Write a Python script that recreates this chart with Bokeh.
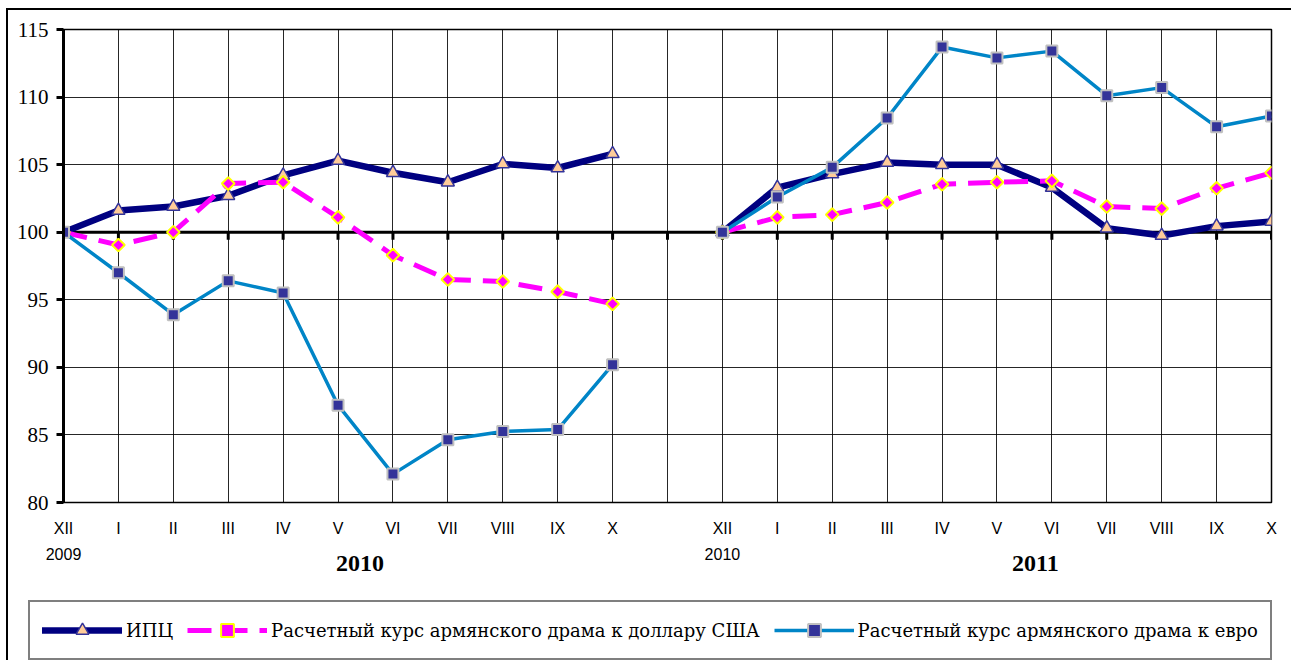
import math
from bokeh.plotting import figure
from bokeh.layouts import column
from bokeh.models import Range1d, FixedTicker, Span, Label, Legend, LegendItem
from bokeh.embed import file_html
from bokeh.resources import INLINE

# ---------------- data ----------------
months = ["XII", "I", "II", "III", "IV", "V", "VI", "VII", "VIII", "IX", "X"]
tick_labels = months + [""] + months
y_ticks = [80, 85, 90, 95, 100, 105, 110, 115]

cpi_2010 = [100, 101.6, 101.9, 102.7, 104.2, 105.3, 104.4, 103.7, 105.05, 104.75, 105.8]
cpi_2011 = [100, 103.3, 104.3, 105.15, 105.0, 105.0, 103.3, 100.3, 99.75, 100.45, 100.8]
usd_2010 = [100, 99.05, 100.0, 103.6, 103.7, 101.1, 98.3, 96.5, 96.35, 95.6, 94.7]
usd_2011 = [100, 101.1, 101.3, 102.2, 103.55, 103.7, 103.8, 101.9, 101.75, 103.25, 104.4]
eur_2010 = [100, 97.0, 93.9, 96.4, 95.5, 87.2, 82.1, 84.65, 85.25, 85.4, 90.2]
eur_2011 = [100, 102.6, 104.8, 108.45, 113.7, 112.9, 113.4, 110.1, 110.7, 107.8, 108.6]

base_year_labels = ["2009", "2010"]
base_year_pos = [0, 12]
year_labels = ["2010", "2011"]
year_pos = [5.4, 17.7]
legend_labels = ["ИПЦ",
                 "Расчетный курс армянского драма к доллару США",
                 "Расчетный курс армянского драма к евро"]

NAN = float("nan")
xs = list(range(len(tick_labels)))
cpi = cpi_2010 + [NAN] + cpi_2011
usd = usd_2010 + [NAN] + usd_2011
eur = eur_2010 + [NAN] + eur_2011

# styles
CPI_LINE = dict(line_color="#000080", line_width=6.5, line_join="round", line_cap="round")
CPI_MK = dict(marker="triangle", size=13, fill_color="#FFCC99", line_color="#333399", line_width=1.5)
USD_LINE = dict(line_color="#FF00FF", line_width=5, line_dash="24 12")
USD_MK = dict(marker="square", angle=math.pi / 4, size=9, fill_color="#FF00FF",
              line_color="#FFFF00", line_width=2)
EUR_LINE = dict(line_color="#0085C7", line_width=3.5, line_join="round")
EUR_MK = dict(marker="square", size=11, fill_color="#333399", line_color="#C0C0C0", line_width=2)

# ---------------- layout constants ----------------
W = 1283
ML, MR, MT = 55, 20, 19
HA = 529
FRAME_BOTTOM = 493
HB = 650 - HA

# ---------------- main figure ----------------
p = figure(width=W, height=HA, output_backend="svg", toolbar_location=None,
           x_range=Range1d(0, len(xs) - 1), y_range=Range1d(80, 115),
           min_border_left=ML, min_border_right=MR, min_border_top=MT,
           min_border_bottom=HA - FRAME_BOTTOM)
p.frame_align = False
p.background_fill_color = "white"
p.border_fill_color = "white"
p.outline_line_color = "black"
p.outline_line_width = 1.5

p.xaxis.ticker = FixedTicker(ticks=xs)
p.xaxis.major_label_overrides = {i: t for i, t in enumerate(tick_labels)}
p.xaxis.axis_line_color = None
p.xaxis.major_tick_line_color = None
p.xaxis.minor_tick_line_color = None
p.xaxis.major_label_standoff = 11
p.xaxis.major_label_text_font = "Liberation Sans"
p.xaxis.major_label_text_font_size = "16px"
p.xaxis.major_label_text_color = "black"

p.yaxis.ticker = FixedTicker(ticks=y_ticks)
p.yaxis.axis_line_width = 3
p.yaxis.axis_line_color = "black"
p.yaxis.major_tick_line_width = 3
p.yaxis.major_tick_in = 0
p.yaxis.major_tick_out = 7
p.yaxis.minor_tick_line_color = None
p.yaxis.major_label_standoff = 8
p.yaxis.major_label_text_font = "Liberation Serif"
p.yaxis.major_label_text_font_size = "21px"
p.yaxis.major_label_text_color = "black"

p.xgrid.ticker = FixedTicker(ticks=xs)
p.ygrid.ticker = FixedTicker(ticks=y_ticks)
for g in (p.xgrid, p.ygrid):
    g.grid_line_color = "black"
    g.grid_line_width = 1
    g.grid_line_alpha = 0.85

p.add_layout(Span(location=100, dimension="width", line_color="black",
                  line_width=3, level="underlay"))
p.segment(x0=xs, y0=[100] * len(xs), x1=xs, y1=[99.45] * len(xs),
          line_color="black", line_width=3)

p.line(xs, cpi, **CPI_LINE)
p.scatter(xs, cpi, **CPI_MK)
p.line(xs, usd, **USD_LINE)
p.scatter(xs, usd, **USD_MK)
p.line(xs, eur, **EUR_LINE)
p.scatter(xs, eur, **EUR_MK)

# ---------------- lower figure: year labels + legend ----------------
unit = (W - ML - MR) / (len(xs) - 1)
q = figure(width=W, height=HB, output_backend="svg", toolbar_location=None,
           x_range=Range1d(-ML / unit, (W - ML) / unit), y_range=Range1d(-HB, 0),
           x_axis_type=None, y_axis_type=None,
           min_border_left=0, min_border_right=0, min_border_top=0, min_border_bottom=0)
q.frame_align = False
q.grid.visible = False
q.outline_line_color = None
q.background_fill_color = "white"
q.border_fill_color = "white"

y_base = -(553.3 - (10 + HA))
y_year = -(563.3 - (10 + HA))
for xi, t in zip(base_year_pos, base_year_labels):
    q.add_layout(Label(x=xi, y=y_base, text=t, text_align="center", text_baseline="middle",
                       text_font="Liberation Sans", text_font_size="16px", text_color="black"))
for xi, t in zip(year_pos, year_labels):
    q.add_layout(Label(x=xi, y=y_year, text=t, text_align="center", text_baseline="middle",
                       text_font="Liberation Serif", text_font_size="24px",
                       text_font_style="bold", text_color="black"))

# legend proxies: same series, outside this panel's visible y range
l1 = q.line(xs, cpi, **CPI_LINE)
m1 = q.scatter(xs, cpi, **CPI_MK)
l2 = q.line(xs, usd, **USD_LINE)
m2 = q.scatter(xs, usd, **USD_MK)
l3 = q.line(xs, eur, **EUR_LINE)
m3 = q.scatter(xs, eur, **EUR_MK)

legend = Legend(items=[
    LegendItem(label=legend_labels[0], renderers=[l1, m1]),
    LegendItem(label=legend_labels[1], renderers=[l2, m2]),
    LegendItem(label=legend_labels[2], renderers=[l3, m3]),
], orientation="horizontal", location=(20, 0))
legend.glyph_width = 80
legend.glyph_height = 32
legend.label_standoff = 4
legend.spacing = 14
legend.padding = 12
legend.margin = 0
legend.border_line_color = "black"
legend.border_line_width = 2
legend.background_fill_color = "white"
legend.background_fill_alpha = 1
legend.label_text_font = "DejaVu Serif"
legend.label_text_font_size = "18px"
legend.label_text_color = "black"
q.add_layout(legend, "center")

layout = column(p, q, spacing=0,
                styles={"margin-left": "6px", "margin-top": "8px",
                        "border-left": "2px solid black", "border-top": "2px solid black"})

open("out.html", "w").write(file_html(layout, INLINE))
